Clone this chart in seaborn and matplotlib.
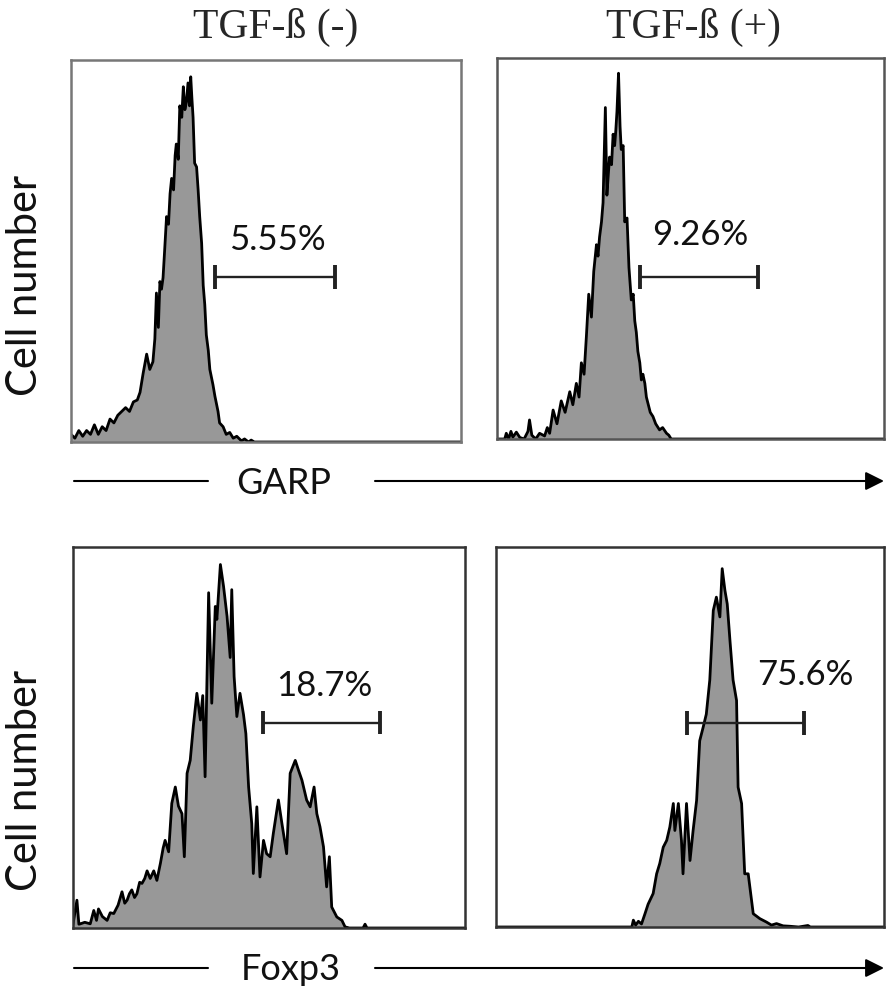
import numpy as np
import matplotlib
matplotlib.use("Agg")
import matplotlib.pyplot as plt
import seaborn as sns

# ---------------- data (x = fluorescence channel 0-100, y = % of panel height) -------------
titles = ["TGF-ß (-)", "TGF-ß (+)"]
markers = ["GARP", "Foxp3"]
ylabel = "Cell number"

garp_neg_x = [0, 1, 2, 3, 4, 5, 6, 7, 8, 9, 10, 11, 12, 13, 14, 15, 16, 17, 17.7, 18.5, 19.4, 20.2, 21, 21.5,
              21.9, 22.4, 22.8, 23.2, 23.6, 24, 24.5, 25, 25.4, 25.8, 26.3, 26.7, 27, 27.5, 27.9, 28.4, 28.8,
              29.2, 29.6, 30, 30.4, 30.7, 31, 31.3, 31.7, 32.2, 32.6, 33, 33.5, 33.9, 34.3, 34.7, 35.2, 35.6,
              36, 36.4, 36.9, 37.3, 37.7, 38.1, 39, 39.8, 40.7, 41.6, 42.5, 43.7, 44.5, 45.5, 46.2, 47, 100]
garp_neg_y = [2, 1, 3, 1.5, 3, 2, 4.5, 2, 4, 3, 6, 5, 7, 8, 9, 8, 10.5, 11, 13, 18, 23, 19, 21, 27,
              39, 30, 42, 40, 43, 50, 59, 57, 65, 69, 66, 75, 78, 74, 88, 85, 93,
              87, 89, 94, 88, 95.6, 90, 85, 73, 72, 66, 59, 52, 41, 36, 28, 24, 19,
              17, 15, 12, 10, 8, 5, 4, 2, 2.5, 1, 1.5, 0.3, 0.8, 0, 0.5, 0, 0]

garp_pos_x = [0, 2, 2.4, 3, 3.6, 4.1, 5, 5.9, 7, 8, 8.4, 9, 10, 11, 12.3, 13, 13.6, 14.5, 15.5, 16.6, 17.6,
              18.8, 19.6, 20.5, 21.2, 21.8, 22.5, 23.1, 23.7, 24.4, 25, 25.7, 26.1, 26.5, 27, 27.4, 28, 28.4,
              28.8, 29.1, 29.6, 30, 30.4, 30.7, 31, 31.4, 31.8, 32.1, 32.6, 33, 33.6, 34.1, 34.7, 35.2, 35.6,
              36, 36.4, 36.9, 37.3, 37.7, 38.2, 38.6, 39, 39.6, 40.3, 41, 42, 42.8, 43.8, 44.4, 45, 100]
garp_pos_y = [0, 0, 1.5, 0, 2, 0.5, 1.8, 0.4, 0, 2, 5, 1, 0, 1.5, 0.8, 3, 1.5, 7.6, 4, 10, 7,
              12.4, 9, 14.6, 11, 20, 17, 27, 38, 32, 44, 51, 48, 53, 57, 62, 87, 64,
              70, 74, 72, 80, 77, 81, 86, 96, 82, 76, 77, 57, 58, 45, 36.5, 38, 31,
              28, 23, 20, 15.5, 17, 14.6, 11, 9.4, 7, 5.9, 4, 2.4, 3, 1.5, 1, 0, 0]

foxp3_neg_x = [0, 1, 1.5, 1.9, 3, 4.4, 5.3, 6, 6.5, 7.5, 8.7, 9.5, 10.4, 11.5, 12.5, 13.2, 13.8, 14.4, 15,
               15.7, 16.3, 17, 17.6, 18.3, 18.9, 19.7, 20.6, 21.4, 22.3, 23, 23.5, 24.4, 25.2, 26.1, 26.9,
               27.8, 28.4, 29.1, 29.9, 30.7, 31.6, 32.5, 33.1, 33.7, 34.6, 35.4, 36.3, 36.7, 37.6, 38.4,
               39.3, 40.1, 40.5, 41.1, 41.8, 42.6, 43.5, 44.1, 44.8, 45.6, 46, 46.9, 47.7, 48.6, 49.4,
               50.3, 51.1, 52.4, 53.3, 54.5, 55.4, 56.7, 57.5, 58.4, 59.6, 60.5, 61.5, 62.2, 63, 63.9,
               64.7, 65.4, 66, 67.3, 68.6, 69.4, 70.5, 74, 74.5, 75, 100]
foxp3_neg_y = [1, 7.3, 1, 1.1, 1.5, 1.1, 4.6, 2, 5, 3, 2, 4, 3.8, 6, 9.5, 6.5, 7.3, 9, 10,
               8, 9, 12, 11.7, 13, 15, 13, 15, 12.5, 17, 21, 23, 20, 32.7, 37, 32,
               30, 18.7, 40.6, 44, 53, 61.6, 54.6, 61, 39.7, 88, 59, 84.4, 81, 95.4, 89.7,
               81.8, 71, 88.8, 66, 55.5, 61.6, 56, 51, 37, 27.4, 14.3, 31.8, 13.4, 23, 19.5,
               18.7, 24.8, 33.6, 27.4, 19.5, 40.6, 44, 41.5, 38.8, 33.6, 31.8, 37, 30, 26.6, 21.3,
               10.8, 18.7, 5.5, 2.9, 2, 0.3, 0, 0, 1, 0, 0]

foxp3_pos_x = [0, 35, 35.4, 36, 36.7, 37.5, 38.4, 39.2, 40.5, 41.4, 42.2, 43.1, 44, 44.8, 45.7, 46.1, 47,
               47.8, 48.2, 49.1, 50, 50.8, 51.7, 52.5, 53.4, 54.2, 55.1, 56, 56.8, 57.7, 58.3, 59, 59.6,
               60.3, 61.1, 62, 62.4, 63.3, 64.1, 65, 66.3, 68, 69.7, 71, 72.3, 74, 75.7, 78, 80.4, 81, 100]
foxp3_pos_y = [0, 0, 1.8, 0.5, 1.5, 0.8, 3.5, 6, 8.8, 14, 16.7, 21, 22.8, 26.3, 32.5, 25.4, 32.5,
               22.8, 14, 32.5, 17.5, 25.4, 33.3, 49, 52.6, 56, 65, 83.3, 86.8, 81.6, 94.3, 88.6, 85,
               75.4, 65, 59.6, 36.8, 32.5, 14, 14, 3.5, 2.2, 1.3, 0.5, 0.9, 0.3, 0.2, 0, 0.4, 0, 0]

# gates: (start, end, height) and labels (text, x, y)
gate_start = [37.0, 36.9, 48.4, 49.3]
gate_end = [67.7, 67.4, 78.3, 79.4]
gate_level = [43.2, 42.6, 53.9, 53.7]
gate_text = ["5.55%", "9.26%", "18.7%", "75.6%"]
text_x = [53.0, 52.5, 64.1, 79.6]
text_y = [53.0, 53.6, 63.4, 66.2]

# ---------------- style -------------
sns.set_theme(style="white")
plt.rcParams["font.family"] = ["Lato", "DejaVu Sans"]

W, H = 896, 992
fig = plt.figure(figsize=(W / 100, H / 100), dpi=100)

def box(l, t, r, b):
    return [l / W, 1 - b / H, (r - l) / W, (b - t) / H]

panel_boxes = [box(71, 60, 461, 442), box(497, 58, 884, 439),
               box(73, 547, 465, 928), box(496, 547, 884, 927)]
hist_x = [garp_neg_x, garp_pos_x, foxp3_neg_x, foxp3_pos_x]
hist_y = [garp_neg_y, garp_pos_y, foxp3_neg_y, foxp3_pos_y]
spine_cols = ["#777777", "#555555", "#333333", "#333333"]

fill_col = "#989898"
for i in range(4):
    ax = fig.add_axes(panel_boxes[i])
    x = np.array(hist_x[i], dtype=float)
    y = np.array(hist_y[i], dtype=float)
    ax.fill_between(x, 0, y, color=fill_col, lw=0, zorder=1)
    sns.lineplot(x=x, y=y, ax=ax, color="black", lw=2.0, sort=False, estimator=None, zorder=2)
    # gate
    sns.lineplot(x=[gate_start[i], gate_end[i]], y=[gate_level[i], gate_level[i]], ax=ax,
                 color="#222222", lw=1.7, estimator=None, zorder=3)
    ax.vlines([gate_start[i], gate_end[i]], gate_level[i] - 3.1, gate_level[i] + 3.1,
              color="#222222", lw=2.8, zorder=3)
    ax.text(text_x[i], text_y[i], gate_text[i], ha="center", va="center", fontsize=25, color="#111111")
    ax.set_xlim(0, 100)
    ax.set_ylim(0, 100)
    ax.set_xticks([])
    ax.set_yticks([])
    ax.set_xlabel("")
    ax.set_ylabel("")
    for s in ax.spines.values():
        s.set_color(spine_cols[i])
        s.set_linewidth(1.8)
        s.set_visible(True)

# overlay for titles, axis arrows and labels (pixel coordinates)
ov = fig.add_axes([0, 0, 1, 1], facecolor="none")
ov.set_xlim(0, W)
ov.set_ylim(H, 0)
ov.axis("off")

ov.text(276, 27, titles[0], ha="center", va="center", fontsize=30,
        family=["Liberation Serif", "DejaVu Serif"])
ov.text(693, 27, titles[1], ha="center", va="center", fontsize=30,
        family=["Liberation Serif", "DejaVu Serif"])

for marker, yy, cx in [(markers[0], 481, 284), (markers[1], 968, 291)]:
    ov.plot([74, 208], [yy, yy], color="black", lw=1.5)
    ov.annotate("", xy=(884, yy), xytext=(375, yy),
                arrowprops=dict(arrowstyle="-|>", color="black", lw=1.5, mutation_scale=28,
                                shrinkA=0, shrinkB=0))
    ov.text(cx, yy + 2, marker, ha="center", va="center", fontsize=26, color="#111111")

ov.text(25, 285, ylabel, ha="center", va="center", rotation=90, fontsize=30, color="#111111")
ov.text(25, 780, ylabel, ha="center", va="center", rotation=90, fontsize=30, color="#111111")

fig.savefig("out.png", dpi=100)
